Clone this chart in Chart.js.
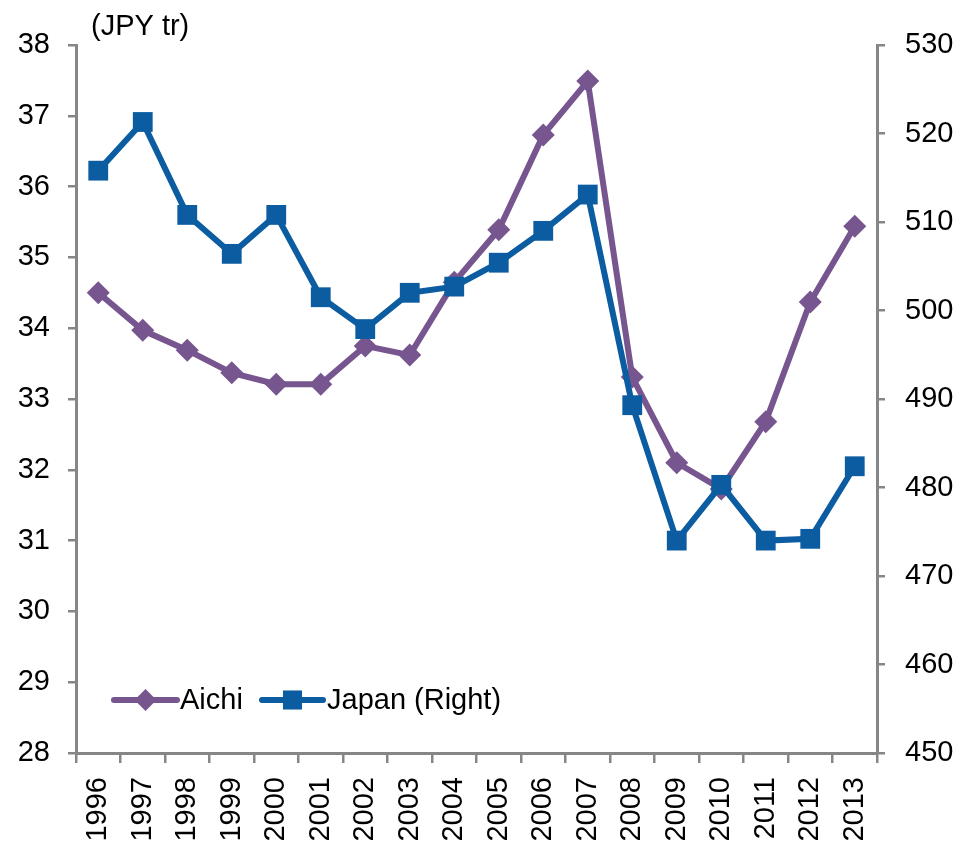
<!DOCTYPE html>
<html>
<head>
<meta charset="utf-8">
<script src="https://cdn.jsdelivr.net/npm/chart.js@4"></script>
<style>
  html, body { margin: 0; padding: 0; background: #fff; }
  #wrap { width: 959px; height: 842px; }
</style>
</head>
<body>
<div id="wrap"><canvas id="chart" width="959" height="842"></canvas></div>
<script>
const YEARS = ["1996", "1997", "1998", "1999", "2000", "2001", "2002", "2003", "2004",
  "2005", "2006", "2007", "2008", "2009", "2010", "2011", "2012", "2013"];

// prefectural GDP, JPY tr (left axis)
const AICHI = [34.50, 33.97, 33.69, 33.37, 33.21, 33.21, 33.75, 33.62, 34.65,
  35.39, 36.73, 37.49, 33.31, 32.10, 31.73, 32.68, 34.37, 35.44];

// national GDP, JPY tr (right axis)
const JAPAN = [515.8, 521.3, 510.8, 506.4, 510.8, 501.5, 497.9, 502.0, 502.7,
  505.4, 509.0, 513.1, 489.3, 474.0, 480.3, 474.0, 474.2, 482.4];

const LEFT_RANGE = [28, 38];
const RIGHT_RANGE = [450, 530];

const AXIS_GREY = "#868686";
const PURPLE = "#77558f";
const BLUE = "#0b5ca0";
const FONT = "'Liberation Sans', Arial, sans-serif";
const FONT_SIZE = 29;

function $(id) {
  return document.getElementById(id);
}

function marker(ctx, style, x, y, r, color) {
  ctx.fillStyle = color;
  ctx.beginPath();
  if (style === "rect") {
    const s = r * Math.SQRT1_2;
    ctx.rect(x - s, y - s, 2 * s, 2 * s);
  } else {
    ctx.moveTo(x, y - r);
    ctx.lineTo(x + r, y);
    ctx.lineTo(x, y + r);
    ctx.lineTo(x - r, y);
    ctx.closePath();
  }
  ctx.fill();
}

// unit label + in-plot legend
const extras = {
  id: "extras",
  afterDraw(chart) {
    const ctx = chart.ctx;
    ctx.save();
    ctx.font = `${FONT_SIZE}px ${FONT}`;
    ctx.fillStyle = "#000";
    ctx.textBaseline = "middle";
    ctx.textAlign = "left";
    ctx.fillText("(JPY tr)", 91, 27);

    const y = 700;
    const items = [
      { x0: 114, x1: 177, text: "Aichi", tx: 180, color: PURPLE, style: "rectRot", r: 11 },
      { x0: 262, x1: 323, text: "Japan (Right)", tx: 327, color: BLUE, style: "rect", r: 13.5 },
    ];
    for (const it of items) {
      ctx.strokeStyle = it.color;
      ctx.lineWidth = 6;
      ctx.lineCap = "round";
      ctx.beginPath();
      ctx.moveTo(it.x0, y);
      ctx.lineTo(it.x1, y);
      ctx.stroke();
      marker(ctx, it.style, (it.x0 + it.x1) / 2, y, it.r, it.color);
      ctx.fillStyle = "#000";
      ctx.fillText(it.text, it.tx, y + 1);
    }
    ctx.restore();
  },
};

function axisGrid() {
  return {
    drawOnChartArea: false,
    drawTicks: true,
    tickLength: 8,
    color: AXIS_GREY,
    lineWidth: 2.5,
  };
}

new Chart($("chart"), {
  type: "line",
  data: {
    labels: YEARS,
    datasets: [
      {
        label: "Aichi",
        data: AICHI,
        yAxisID: "y",
        order: 1,
        borderColor: PURPLE,
        backgroundColor: PURPLE,
        borderWidth: 6,
        pointStyle: "rectRot",
        pointRadius: 11.5,
        pointBorderWidth: 0,
        tension: 0,
      },
      {
        label: "Japan (Right)",
        data: JAPAN,
        yAxisID: "y1",
        order: 0,
        borderColor: BLUE,
        backgroundColor: BLUE,
        borderWidth: 6,
        pointStyle: "rect",
        pointRadius: 14,
        pointBorderWidth: 0,
        tension: 0,
      },
    ],
  },
  plugins: [extras],
  options: {
    responsive: false,
    animation: false,
    devicePixelRatio: 1,
    layout: { padding: { top: 45, left: 0, right: 0, bottom: 0 } },
    plugins: {
      legend: { display: false },
      tooltip: { enabled: false },
    },
    scales: {
      x: {
        offset: true,
        grid: { ...axisGrid(), offset: true, tickLength: 10 },
        border: { color: AXIS_GREY, width: 3 },
        ticks: {
          autoSkip: false,
          minRotation: 90,
          maxRotation: 90,
          padding: 14,
          color: "#000",
          font: { family: FONT, size: FONT_SIZE },
        },
        afterFit(scale) {
          scale.height = 89;
        },
      },
      y: {
        position: "left",
        min: LEFT_RANGE[0],
        max: LEFT_RANGE[1],
        grid: axisGrid(),
        border: { color: AXIS_GREY, width: 3 },
        ticks: {
          stepSize: 1,
          padding: 18,
          color: "#000",
          font: { family: FONT, size: FONT_SIZE },
        },
        afterFit(scale) {
          scale.width = 76;
        },
      },
      y1: {
        position: "right",
        min: RIGHT_RANGE[0],
        max: RIGHT_RANGE[1],
        grid: axisGrid(),
        border: { color: AXIS_GREY, width: 3 },
        ticks: {
          stepSize: 10,
          padding: 20,
          color: "#000",
          font: { family: FONT, size: FONT_SIZE },
        },
        afterFit(scale) {
          scale.width = 82;
        },
      },
    },
  },
});
</script>
</body>
</html>
